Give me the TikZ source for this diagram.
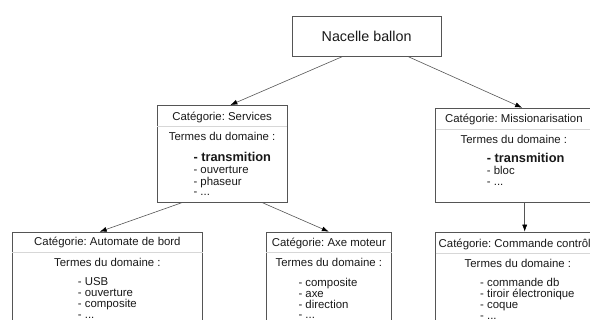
\documentclass[tikz,border=0pt]{standalone}
\usepackage{fontspec}
\setmainfont{Liberation Sans}
\usetikzlibrary{calc,arrows.meta}
\definecolor{edgegray}{RGB}{85,85,85}
\definecolor{rulegray}{RGB}{215,215,215}
\definecolor{inkgray}{RGB}{25,25,25}
\frenchspacing
\begin{document}
\begin{tikzpicture}[x=1pt,y=-1pt,
  box/.style={draw=edgegray, line width=0.8pt, fill=white, rectangle, inner sep=0pt, anchor=north west},
  hdr/.style={anchor=base, inner sep=0pt, text=inkgray, font=\fontsize{11.4}{13}\selectfont},
  item/.style={anchor=base west, inner sep=0pt, text=inkgray, font=\fontsize{11.4}{13}\selectfont},
  keyitem/.style={item, font=\fontsize{12.8}{15}\selectfont\bfseries},
  link/.style={draw=edgegray, line width=0.6pt, -{Latex[length=7pt,width=5pt,color=black]}},
  divider/.style={draw=rulegray, line width=1pt}]
\useasboundingbox (0,0) rectangle (590,320);
\clip (0,0) rectangle (590,320);

% root
\node[box, minimum width=149, minimum height=40, text=inkgray,
      font=\fontsize{14.3}{16}\selectfont] (nac) at (291.7,16) {Nacelle ballon};

% category: Services
\node[box, minimum width=130, minimum height=97] (svc) at (156.7,105) {};
\node[hdr] (svcH) at ($(svc.north)+(0,15.5)$) {Catégorie: Services};
\draw[divider] ($(svc.north west)+(0.5,22)$) -- ($(svc.north east)+(-0.5,22)$);
\node[hdr] (svcT) at ($(svc.north)+(0,36)$) {Termes du domaine :};
\node[keyitem] (svc1) at ($(svc.north west)+(36.6,57)$) {- transmition};
\node[item] (svc2) at ($(svc.north west)+(36.6,68.8)$) {- ouverture};
\node[item] (svc3) at ($(svc.north west)+(36.6,80.5)$) {- phaseur};
\node[item] (svc4) at ($(svc.north west)+(36.6,91)$) {- ...};

% category: Missionarisation
\node[box, minimum width=157, minimum height=94] (mis) at (435,107.7) {};
\node[hdr] (misH) at ($(mis.north)+(0,15)$) {Catégorie: Missionarisation};
\draw[divider] ($(mis.north west)+(0.5,21.5)$) -- ($(mis.north east)+(-0.5,21.5)$);
\node[hdr] (misT) at ($(mis.north)+(0,35.5)$) {Termes du domaine :};
\node[keyitem] (mis1) at ($(mis.north west)+(51.7,55)$) {- transmition};
\node[item] (mis2) at ($(mis.north west)+(51.7,66.8)$) {- bloc};
\node[item] (mis3) at ($(mis.north west)+(51.7,77.5)$) {- ...};

% category: Automate de bord
\node[box, minimum width=190.6, minimum height=95] (aut) at (11.7,231.7) {};
\node[hdr] (autH) at ($(aut.north)+(0,14)$) {Catégorie: Automate de bord};
\draw[divider] ($(aut.north west)+(0.5,20.5)$) -- ($(aut.north east)+(-0.5,20.5)$);
\node[hdr] (autT) at ($(aut.north)+(0,35)$) {Termes du domaine :};
\node[item] (aut1) at ($(aut.north west)+(66,54)$) {- USB};
\node[item] (aut2) at ($(aut.north west)+(66,65)$) {- ouverture};
\node[item] (aut3) at ($(aut.north west)+(66,76)$) {- composite};
\node[item] (aut4) at ($(aut.north west)+(66,86.5)$) {- ...};

% category: Axe moteur
\node[box, minimum width=125.5, minimum height=95] (axe) at (265.7,231.7) {};
\node[hdr] (axeH) at ($(axe.north)+(0,15)$) {Catégorie: Axe moteur};
\draw[divider] ($(axe.north west)+(0.5,21)$) -- ($(axe.north east)+(-0.5,21)$);
\node[hdr] (axeT) at ($(axe.north)+(0,35)$) {Termes du domaine :};
\node[item] (axe1) at ($(axe.north west)+(32.6,54.5)$) {- composite};
\node[item] (axe2) at ($(axe.north west)+(32.6,65.5)$) {- axe};
\node[item] (axe3) at ($(axe.north west)+(32.6,76.5)$) {- direction};
\node[item] (axe4) at ($(axe.north west)+(32.6,87)$) {- ...};

% category: Commande contrôle
\node[box, minimum width=165, minimum height=95] (cmd) at (435,231.7) {};
\node[hdr] (cmdH) at ($(cmd.north)+(0,15.5)$) {Catégorie: Commande contrôle};
\draw[divider] ($(cmd.north west)+(0.5,21.5)$) -- ($(cmd.north east)+(-0.5,21.5)$);
\node[hdr] (cmdT) at ($(cmd.north)+(0,35.5)$) {Termes du domaine :};
\node[item] (cmd1) at ($(cmd.north west)+(45,54.5)$) {- commande db};
\node[item] (cmd2) at ($(cmd.north west)+(45,65.5)$) {- tiroir électronique};
\node[item] (cmd3) at ($(cmd.north west)+(45,77)$) {- coque};
\node[item] (cmd4) at ($(cmd.north west)+(45,88)$) {- ...};

% connectors
\coordinate (nacL) at ($(nac.south west)!0.335!(nac.south east)$);
\coordinate (nacR) at ($(nac.south west)!0.78!(nac.south east)$);
\coordinate (svcL) at ($(svc.south west)!0.19!(svc.south east)$);
\coordinate (svcR) at ($(svc.south west)!0.81!(svc.south east)$);
\coordinate (misOut) at ($(mis.south)+(10.8,0)$);
\coordinate (svcIn) at ($(svc.north)+(8.3,0)$);
\coordinate (misIn) at ($(mis.north)+(8.2,0)$);
\coordinate (autIn) at ($(aut.north)+(-7.7,0)$);
\draw[link] (nacL) -- (svcIn);
\draw[link] (nacR) -- (misIn);
\draw[link] (svcL) -- (autIn);
\draw[link] (svcR) -- (axe.north);
\draw[link] (misOut) -- (misOut |- cmd.north);
\end{tikzpicture}
\end{document}
